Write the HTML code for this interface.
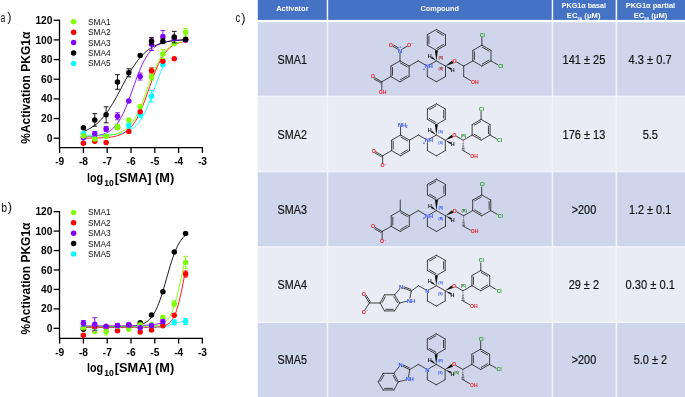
<!DOCTYPE html>
<html><head><meta charset="utf-8"><title>PKG1a activation</title>
<style>
html,body{margin:0;padding:0;background:#fff;}
body{width:685px;height:397px;overflow:hidden;font-family:"Liberation Sans",sans-serif;}
svg{display:block;will-change:transform;}
</style></head>
<body>
<svg width="685" height="397" viewBox="0 0 685 397">
<rect width="685" height="397" fill="#fff"/>
<rect x="257.8" y="0" width="427.2" height="397" fill="#f3f4fa"/>
<rect x="257.8" y="19.9" width="427.2" height="2.4" fill="#fff"/>
<rect x="257.8" y="0" width="68.90" height="19.9" fill="#4472c4"/>
<rect x="328.2" y="0" width="223.50" height="19.9" fill="#4472c4"/>
<rect x="553.2" y="0" width="62.40" height="19.9" fill="#4472c4"/>
<rect x="617.2" y="0" width="67.80" height="19.9" fill="#4472c4"/>
<rect x="257.8" y="22.3" width="68.90" height="73.40" fill="#cfd5ea"/>
<rect x="328.2" y="22.3" width="223.50" height="73.40" fill="#cfd5ea"/>
<rect x="553.2" y="22.3" width="62.40" height="73.40" fill="#cfd5ea"/>
<rect x="617.2" y="22.3" width="67.80" height="73.40" fill="#cfd5ea"/>
<rect x="257.8" y="97.3" width="68.90" height="73.40" fill="#e9ebf5"/>
<rect x="328.2" y="97.3" width="223.50" height="73.40" fill="#e9ebf5"/>
<rect x="553.2" y="97.3" width="62.40" height="73.40" fill="#e9ebf5"/>
<rect x="617.2" y="97.3" width="67.80" height="73.40" fill="#e9ebf5"/>
<rect x="257.8" y="172.2" width="68.90" height="74.00" fill="#cfd5ea"/>
<rect x="328.2" y="172.2" width="223.50" height="74.00" fill="#cfd5ea"/>
<rect x="553.2" y="172.2" width="62.40" height="74.00" fill="#cfd5ea"/>
<rect x="617.2" y="172.2" width="67.80" height="74.00" fill="#cfd5ea"/>
<rect x="257.8" y="247.8" width="68.90" height="73.80" fill="#e9ebf5"/>
<rect x="328.2" y="247.8" width="223.50" height="73.80" fill="#e9ebf5"/>
<rect x="553.2" y="247.8" width="62.40" height="73.80" fill="#e9ebf5"/>
<rect x="617.2" y="247.8" width="67.80" height="73.80" fill="#e9ebf5"/>
<rect x="257.8" y="323.1" width="68.90" height="73.90" fill="#cfd5ea"/>
<rect x="328.2" y="323.1" width="223.50" height="73.90" fill="#cfd5ea"/>
<rect x="553.2" y="323.1" width="62.40" height="73.90" fill="#cfd5ea"/>
<rect x="617.2" y="323.1" width="67.80" height="73.90" fill="#cfd5ea"/>
<g font-family='"Liberation Sans", sans-serif' font-weight="bold" fill="#fff">
<text x="276.2" y="10.7" font-size="7.6" textLength="32.4" lengthAdjust="spacingAndGlyphs">Activator</text>
<text x="420.4" y="10.7" font-size="7.6" textLength="38.6" lengthAdjust="spacingAndGlyphs">Compound</text>
<text x="561.8" y="8.1" font-size="6.8" textLength="44.3" lengthAdjust="spacingAndGlyphs">PKG1α basal</text>
<text x="566.8" y="18.4" font-size="6.8" textLength="33.7" lengthAdjust="spacingAndGlyphs">EC<tspan font-size="3.8" dy="1.3">50</tspan><tspan dy="-1.3"> (μM)</tspan></text>
<text x="625.7" y="8.1" font-size="6.8" textLength="49.5" lengthAdjust="spacingAndGlyphs">PKG1α partial</text>
<text x="633.8" y="18.4" font-size="6.8" textLength="33.5" lengthAdjust="spacingAndGlyphs">EC<tspan font-size="3.8" dy="1.3">50</tspan><tspan dy="-1.3"> (μM)</tspan></text>
</g>
<g font-family='"Liberation Sans", sans-serif' fill="#111" font-size="12.3" stroke="#111" stroke-width="0.18">
<text x="277.6" y="63.7" textLength="29.3" lengthAdjust="spacingAndGlyphs">SMA1</text>
<text x="562.6" y="63.7" textLength="42.7" lengthAdjust="spacingAndGlyphs">141 ± 25</text>
<text x="628.6" y="63.7" textLength="43.1" lengthAdjust="spacingAndGlyphs">4.3 ± 0.7</text>
<text x="277.6" y="138.7" textLength="29.3" lengthAdjust="spacingAndGlyphs">SMA2</text>
<text x="562.6" y="138.7" textLength="42.7" lengthAdjust="spacingAndGlyphs">176 ± 13</text>
<text x="642.7" y="138.7" textLength="15.3" lengthAdjust="spacingAndGlyphs">5.5</text>
<text x="277.6" y="213.7" textLength="29.3" lengthAdjust="spacingAndGlyphs">SMA3</text>
<text x="571.7" y="213.7" textLength="24.5" lengthAdjust="spacingAndGlyphs">&gt;200</text>
<text x="629.0" y="213.7" textLength="42.2" lengthAdjust="spacingAndGlyphs">1.2 ± 0.1</text>
<text x="277.6" y="288.7" textLength="29.3" lengthAdjust="spacingAndGlyphs">SMA4</text>
<text x="568.7" y="288.7" textLength="30.3" lengthAdjust="spacingAndGlyphs">29 ± 2</text>
<text x="625.6" y="288.7" textLength="49.4" lengthAdjust="spacingAndGlyphs">0.30 ± 0.1</text>
<text x="277.6" y="363.7" textLength="29.3" lengthAdjust="spacingAndGlyphs">SMA5</text>
<text x="571.7" y="363.7" textLength="24.5" lengthAdjust="spacingAndGlyphs">&gt;200</text>
<text x="633.8" y="363.7" textLength="33.2" lengthAdjust="spacingAndGlyphs">5.0 ± 2</text>
</g>
<text x="235.5" y="22.3" font-family='"Liberation Sans", sans-serif' font-size="12.8" fill="#111" textLength="4.7" lengthAdjust="spacingAndGlyphs">c</text>
<text x="241.2" y="21.6" font-family='"Liberation Sans", sans-serif' font-size="12.8" fill="#111">)</text>
<g stroke="#000" stroke-width="1.3" fill="none">
<path d="M59.5 19.60 V148.30"/>
<path d="M59.0 147.70 H203.00"/>
<path d="M53.6 138.20 H59.5"/>
<path d="M53.6 118.54 H59.5"/>
<path d="M53.6 98.88 H59.5"/>
<path d="M53.6 79.22 H59.5"/>
<path d="M53.6 59.56 H59.5"/>
<path d="M53.6 39.90 H59.5"/>
<path d="M53.6 20.24 H59.5"/>
<path d="M59.60 147.70 V152.90"/>
<path d="M83.40 147.70 V152.90"/>
<path d="M107.20 147.70 V152.90"/>
<path d="M131.00 147.70 V152.90"/>
<path d="M154.80 147.70 V152.90"/>
<path d="M178.60 147.70 V152.90"/>
<path d="M202.40 147.70 V152.90"/>
</g>
<g font-family='"Liberation Sans", sans-serif' font-weight="bold" font-size="10.2" fill="#000">
<text x="52.4" y="141.80" text-anchor="end">0</text>
<text x="52.4" y="122.14" text-anchor="end">20</text>
<text x="52.4" y="102.48" text-anchor="end">40</text>
<text x="52.4" y="82.82" text-anchor="end">60</text>
<text x="52.4" y="63.16" text-anchor="end">80</text>
<text x="52.4" y="43.50" text-anchor="end">100</text>
<text x="52.4" y="23.84" text-anchor="end">120</text>
<text x="59.70" y="164.90" text-anchor="middle">-9</text>
<text x="83.50" y="164.90" text-anchor="middle">-8</text>
<text x="107.30" y="164.90" text-anchor="middle">-7</text>
<text x="131.10" y="164.90" text-anchor="middle">-6</text>
<text x="154.90" y="164.90" text-anchor="middle">-5</text>
<text x="178.70" y="164.90" text-anchor="middle">-4</text>
<text x="202.50" y="164.90" text-anchor="middle">-3</text>
</g>
<text transform="translate(30.0 87.70) rotate(-90)" x="0" y="0" text-anchor="middle" font-family='"Liberation Sans", sans-serif' font-weight="bold" font-size="13.2" fill="#000" textLength="112" lengthAdjust="spacingAndGlyphs">%Activation PKG1α</text>
<g font-family='"Liberation Sans", sans-serif' font-weight="bold" fill="#000">
<text x="87.0" y="182.40" font-size="12.4" textLength="16.2" lengthAdjust="spacingAndGlyphs">log</text>
<text x="104.2" y="186.30" font-size="8.4" textLength="9.6" lengthAdjust="spacingAndGlyphs">10</text>
<text x="114.8" y="182.40" font-size="12.4" textLength="59.4" lengthAdjust="spacingAndGlyphs">[SMA] (M)</text>
</g>
<text x="0.6" y="22.20" font-family='"Liberation Sans", sans-serif' font-size="12.8" fill="#111" textLength="4.8" lengthAdjust="spacingAndGlyphs">a</text>
<text x="7.3" y="21.40" font-family='"Liberation Sans", sans-serif' font-size="12.8" fill="#111">)</text>
<g font-family='"Liberation Sans", sans-serif' font-size="8.3" fill="#111">
<circle cx="73.6" cy="21.80" r="2.75" fill="#80ff00"/>
<text x="88" y="24.80" textLength="22.7" lengthAdjust="spacingAndGlyphs">SMA1</text>
<circle cx="73.6" cy="32.20" r="2.75" fill="#ff0000"/>
<text x="88" y="35.20" textLength="22.7" lengthAdjust="spacingAndGlyphs">SMA2</text>
<circle cx="73.6" cy="42.60" r="2.75" fill="#8000ff"/>
<text x="88" y="45.60" textLength="22.7" lengthAdjust="spacingAndGlyphs">SMA3</text>
<circle cx="73.6" cy="53.00" r="2.75" fill="#000000"/>
<text x="88" y="56.00" textLength="22.7" lengthAdjust="spacingAndGlyphs">SMA4</text>
<circle cx="73.6" cy="63.40" r="2.75" fill="#00ffff"/>
<text x="88" y="66.40" textLength="22.7" lengthAdjust="spacingAndGlyphs">SMA5</text>
</g>
<polyline points="83.40,135.23 84.39,135.22 85.39,135.22 86.38,135.22 87.37,135.21 88.37,135.21 89.36,135.20 90.36,135.20 91.35,135.19 92.34,135.18 93.34,135.18 94.33,135.17 95.32,135.16 96.32,135.14 97.31,135.13 98.30,135.12 99.30,135.10 100.29,135.08 101.28,135.06 102.28,135.04 103.27,135.01 104.27,134.98 105.26,134.95 106.25,134.91 107.25,134.87 108.24,134.82 109.23,134.77 110.23,134.71 111.22,134.65 112.21,134.58 113.21,134.49 114.20,134.40 115.20,134.30 116.19,134.19 117.18,134.06 118.18,133.91 119.17,133.75 120.16,133.57 121.16,133.37 122.15,133.15 123.14,132.89 124.14,132.61 125.13,132.30 126.13,131.95 127.12,131.57 128.11,131.13 129.11,130.66 130.10,130.12 131.09,129.53 132.09,128.88 133.08,128.16 134.07,127.37 135.07,126.49 136.06,125.53 137.05,124.47 138.05,123.32 139.04,122.06 140.04,120.70 141.03,119.22 142.02,117.62 143.02,115.90 144.01,114.06 145.00,112.10 146.00,110.02 146.99,107.82 147.98,105.51 148.98,103.10 149.97,100.60 150.97,98.02 151.96,95.37 152.95,92.67 153.95,89.94 154.94,87.19 155.93,84.44 156.93,81.72 157.92,79.03 158.91,76.40 159.91,73.84 160.90,71.36 161.89,68.98 162.89,66.70" fill="none" stroke="#00ffff" stroke-width="0.9"/>
<polyline points="83.40,138.15 84.68,138.14 85.95,138.13 87.23,138.12 88.51,138.11 89.79,138.10 91.06,138.08 92.34,138.06 93.62,138.04 94.90,138.01 96.17,137.98 97.45,137.95 98.73,137.91 100.01,137.86 101.28,137.81 102.56,137.75 103.84,137.67 105.12,137.59 106.39,137.49 107.67,137.38 108.95,137.25 110.23,137.10 111.50,136.93 112.78,136.73 114.06,136.50 115.34,136.23 116.61,135.92 117.89,135.57 119.17,135.16 120.45,134.69 121.72,134.16 123.00,133.54 124.28,132.84 125.56,132.03 126.83,131.12 128.11,130.08 129.39,128.91 130.67,127.58 131.94,126.09 133.22,124.43 134.50,122.57 135.78,120.53 137.05,118.27 138.33,115.81 139.61,113.15 140.89,110.28 142.16,107.22 143.44,103.99 144.72,100.61 146.00,97.12 147.27,93.53 148.55,89.90 149.83,86.26 151.11,82.65 152.38,79.10 153.66,75.67 154.94,72.37 156.22,69.23 157.49,66.27 158.77,63.51 160.05,60.95 161.33,58.60 162.60,56.46 163.88,54.51 165.16,52.76 166.44,51.19 167.71,49.79 168.99,48.55 170.27,47.45 171.55,46.48 172.82,45.62 174.10,44.87 175.38,44.22 176.66,43.65 177.93,43.15 179.21,42.71 180.49,42.33 181.77,42.01 183.04,41.72 184.32,41.47 185.60,41.26" fill="none" stroke="#ff0000" stroke-width="0.9"/>
<polyline points="83.40,136.91 84.68,136.86 85.95,136.80 87.23,136.73 88.51,136.66 89.79,136.57 91.06,136.47 92.34,136.35 93.62,136.21 94.90,136.05 96.17,135.87 97.45,135.65 98.73,135.41 100.01,135.13 101.28,134.80 102.56,134.43 103.84,133.99 105.12,133.50 106.39,132.93 107.67,132.28 108.95,131.54 110.23,130.69 111.50,129.73 112.78,128.64 114.06,127.40 115.34,126.01 116.61,124.46 117.89,122.72 119.17,120.79 120.45,118.67 121.72,116.34 123.00,113.81 124.28,111.07 125.56,108.14 126.83,105.03 128.11,101.75 129.39,98.35 130.67,94.84 131.94,91.27 133.22,87.66 134.50,84.06 135.78,80.52 137.05,77.06 138.33,73.71 139.61,70.52 140.89,67.50 142.16,64.66 143.44,62.02 144.72,59.59 146.00,57.36 147.27,55.34 148.55,53.51 149.83,51.86 151.11,50.39 152.38,49.08 153.66,47.92 154.94,46.89 156.22,45.99 157.49,45.20 158.77,44.50 160.05,43.89 161.33,43.36 162.60,42.90 163.88,42.50 165.16,42.15 166.44,41.84 167.71,41.58 168.99,41.35 170.27,41.15 171.55,40.98 172.82,40.84 174.10,40.71 175.38,40.60 176.66,40.50 177.93,40.42 179.21,40.35 180.49,40.29 181.77,40.23 183.04,40.19 184.32,40.15 185.60,40.11" fill="none" stroke="#8000ff" stroke-width="0.9"/>
<polyline points="83.40,136.18 84.68,136.17 85.95,136.16 87.23,136.15 88.51,136.13 89.79,136.12 91.06,136.10 92.34,136.08 93.62,136.05 94.90,136.02 96.17,135.99 97.45,135.95 98.73,135.91 100.01,135.85 101.28,135.79 102.56,135.72 103.84,135.64 105.12,135.55 106.39,135.44 107.67,135.31 108.95,135.17 110.23,135.00 111.50,134.81 112.78,134.58 114.06,134.32 115.34,134.03 116.61,133.68 117.89,133.29 119.17,132.83 120.45,132.31 121.72,131.71 123.00,131.03 124.28,130.25 125.56,129.36 126.83,128.35 128.11,127.21 129.39,125.92 130.67,124.47 131.94,122.85 133.22,121.05 134.50,119.06 135.78,116.86 137.05,114.47 138.33,111.87 139.61,109.07 140.89,106.09 142.16,102.93 143.44,99.63 144.72,96.21 146.00,92.70 147.27,89.14 148.55,85.57 149.83,82.03 151.11,78.56 152.38,75.18 153.66,71.93 154.94,68.84 156.22,65.93 157.49,63.21 158.77,60.69 160.05,58.38 161.33,56.26 162.60,54.35 163.88,52.62 165.16,51.07 166.44,49.68 167.71,48.46 168.99,47.37 170.27,46.41 171.55,45.56 172.82,44.82 174.10,44.17 175.38,43.61 176.66,43.11 177.93,42.68 179.21,42.31 180.49,41.98 181.77,41.70 183.04,41.46 184.32,41.25 185.60,41.06" fill="none" stroke="#80ff00" stroke-width="0.9"/>
<polyline points="83.40,131.38 84.68,130.90 85.95,130.38 87.23,129.82 88.51,129.20 89.79,128.52 91.06,127.79 92.34,127.00 93.62,126.14 94.90,125.21 96.17,124.20 97.45,123.12 98.73,121.96 100.01,120.71 101.28,119.38 102.56,117.96 103.84,116.44 105.12,114.84 106.39,113.14 107.67,111.35 108.95,109.48 110.23,107.52 111.50,105.48 112.78,103.36 114.06,101.18 115.34,98.93 116.61,96.63 117.89,94.29 119.17,91.91 120.45,89.52 121.72,87.11 123.00,84.71 124.28,82.32 125.56,79.96 126.83,77.63 128.11,75.35 129.39,73.13 130.67,70.97 131.94,68.88 133.22,66.87 134.50,64.94 135.78,63.10 137.05,61.35 138.33,59.69 139.61,58.12 140.89,56.64 142.16,55.25 143.44,53.95 144.72,52.74 146.00,51.61 147.27,50.55 148.55,49.58 149.83,48.68 151.11,47.84 152.38,47.07 153.66,46.36 154.94,45.71 156.22,45.11 157.49,44.56 158.77,44.06 160.05,43.60 161.33,43.18 162.60,42.79 163.88,42.44 165.16,42.12 166.44,41.83 167.71,41.56 168.99,41.32 170.27,41.10 171.55,40.90 172.82,40.71 174.10,40.55 175.38,40.40 176.66,40.26 177.93,40.13 179.21,40.02 180.49,39.92 181.77,39.82 183.04,39.74 184.32,39.66 185.60,39.59" fill="none" stroke="#000000" stroke-width="0.9"/>
<path d="M151.53 90.62 V102.02 M149.13 90.62 H153.93 M149.13 102.02 H153.93" stroke="#00ffff" stroke-width="0.9" fill="none"/>
<path d="M140.18 111.71 V117.71 M137.78 111.71 H142.58 M137.78 117.71 H142.58" stroke="#00ffff" stroke-width="0.9" fill="none"/>
<path d="M128.82 123.12 V128.12 M126.42 123.12 H131.22 M126.42 128.12 H131.22" stroke="#00ffff" stroke-width="0.9" fill="none"/>
<circle cx="83.40" cy="133.38" r="2.75" fill="#00ffff"/>
<circle cx="94.76" cy="138.20" r="2.75" fill="#00ffff"/>
<circle cx="106.11" cy="136.23" r="2.75" fill="#00ffff"/>
<circle cx="117.47" cy="127.19" r="2.75" fill="#00ffff"/>
<circle cx="128.82" cy="125.62" r="2.75" fill="#00ffff"/>
<circle cx="140.18" cy="114.71" r="2.75" fill="#00ffff"/>
<circle cx="151.53" cy="96.32" r="2.75" fill="#00ffff"/>
<circle cx="162.89" cy="64.87" r="2.75" fill="#00ffff"/>
<path d="M151.53 67.86 V73.86 M149.13 67.86 H153.93 M149.13 73.86 H153.93" stroke="#ff0000" stroke-width="0.9" fill="none"/>
<circle cx="83.40" cy="143.31" r="2.75" fill="#ff0000"/>
<circle cx="94.76" cy="141.15" r="2.75" fill="#ff0000"/>
<circle cx="106.11" cy="142.43" r="2.75" fill="#ff0000"/>
<circle cx="117.47" cy="127.39" r="2.75" fill="#ff0000"/>
<circle cx="128.82" cy="131.42" r="2.75" fill="#ff0000"/>
<circle cx="140.18" cy="111.66" r="2.75" fill="#ff0000"/>
<circle cx="151.53" cy="70.86" r="2.75" fill="#ff0000"/>
<circle cx="162.89" cy="61.13" r="2.75" fill="#ff0000"/>
<circle cx="174.24" cy="58.87" r="2.75" fill="#ff0000"/>
<circle cx="185.60" cy="39.90" r="2.75" fill="#ff0000"/>
<path d="M94.76 131.37 V136.37 M92.36 131.37 H97.16 M92.36 136.37 H97.16" stroke="#8000ff" stroke-width="0.9" fill="none"/>
<path d="M106.11 126.46 V131.46 M103.71 126.46 H108.51 M103.71 131.46 H108.51" stroke="#8000ff" stroke-width="0.9" fill="none"/>
<path d="M117.47 112.78 V119.78 M115.07 112.78 H119.87 M115.07 119.78 H119.87" stroke="#8000ff" stroke-width="0.9" fill="none"/>
<path d="M140.18 73.07 V80.07 M137.78 73.07 H142.58 M137.78 80.07 H142.58" stroke="#8000ff" stroke-width="0.9" fill="none"/>
<path d="M151.53 38.12 V50.52 M149.13 38.12 H153.93 M149.13 50.52 H153.93" stroke="#8000ff" stroke-width="0.9" fill="none"/>
<path d="M162.89 30.56 V42.56 M160.49 30.56 H165.29 M160.49 42.56 H165.29" stroke="#8000ff" stroke-width="0.9" fill="none"/>
<circle cx="83.40" cy="137.81" r="2.75" fill="#8000ff"/>
<circle cx="94.76" cy="133.87" r="2.75" fill="#8000ff"/>
<circle cx="106.11" cy="128.96" r="2.75" fill="#8000ff"/>
<circle cx="117.47" cy="116.28" r="2.75" fill="#8000ff"/>
<circle cx="128.82" cy="101.04" r="2.75" fill="#8000ff"/>
<circle cx="140.18" cy="76.57" r="2.75" fill="#8000ff"/>
<circle cx="151.53" cy="44.32" r="2.75" fill="#8000ff"/>
<circle cx="162.89" cy="36.56" r="2.75" fill="#8000ff"/>
<circle cx="174.24" cy="38.92" r="2.75" fill="#8000ff"/>
<circle cx="185.60" cy="39.90" r="2.75" fill="#8000ff"/>
<path d="M117.47 124.49 V129.49 M115.07 124.49 H119.87 M115.07 129.49 H119.87" stroke="#80ff00" stroke-width="0.9" fill="none"/>
<path d="M151.53 73.96 V79.96 M149.13 73.96 H153.93 M149.13 79.96 H153.93" stroke="#80ff00" stroke-width="0.9" fill="none"/>
<path d="M162.89 49.56 V58.56 M160.49 49.56 H165.29 M160.49 58.56 H165.29" stroke="#80ff00" stroke-width="0.9" fill="none"/>
<path d="M185.60 28.33 V35.93 M183.20 28.33 H188.00 M183.20 35.93 H188.00" stroke="#80ff00" stroke-width="0.9" fill="none"/>
<circle cx="83.40" cy="135.94" r="2.75" fill="#80ff00"/>
<circle cx="94.76" cy="138.99" r="2.75" fill="#80ff00"/>
<circle cx="106.11" cy="136.23" r="2.75" fill="#80ff00"/>
<circle cx="117.47" cy="126.99" r="2.75" fill="#80ff00"/>
<circle cx="128.82" cy="120.01" r="2.75" fill="#80ff00"/>
<circle cx="140.18" cy="106.45" r="2.75" fill="#80ff00"/>
<circle cx="151.53" cy="76.96" r="2.75" fill="#80ff00"/>
<circle cx="162.89" cy="54.06" r="2.75" fill="#80ff00"/>
<circle cx="174.24" cy="43.73" r="2.75" fill="#80ff00"/>
<circle cx="185.60" cy="32.13" r="2.75" fill="#80ff00"/>
<path d="M94.76 113.62 V126.22 M92.36 113.62 H97.16 M92.36 126.22 H97.16" stroke="#000000" stroke-width="0.9" fill="none"/>
<path d="M106.11 106.80 V122.80 M103.71 106.80 H108.51 M103.71 122.80 H108.51" stroke="#000000" stroke-width="0.9" fill="none"/>
<path d="M117.47 74.67 V89.27 M115.07 74.67 H119.87 M115.07 89.27 H119.87" stroke="#000000" stroke-width="0.9" fill="none"/>
<path d="M128.82 68.83 V76.83 M126.42 68.83 H131.22 M126.42 76.83 H131.22" stroke="#000000" stroke-width="0.9" fill="none"/>
<path d="M151.53 37.68 V44.68 M149.13 37.68 H153.93 M149.13 44.68 H153.93" stroke="#000000" stroke-width="0.9" fill="none"/>
<path d="M162.89 38.68 V43.68 M160.49 38.68 H165.29 M160.49 43.68 H165.29" stroke="#000000" stroke-width="0.9" fill="none"/>
<path d="M174.24 31.35 V42.75 M171.84 31.35 H176.64 M171.84 42.75 H176.64" stroke="#000000" stroke-width="0.9" fill="none"/>
<circle cx="83.40" cy="127.78" r="2.75" fill="#000000"/>
<circle cx="94.76" cy="119.92" r="2.75" fill="#000000"/>
<circle cx="106.11" cy="114.80" r="2.75" fill="#000000"/>
<circle cx="117.47" cy="81.97" r="2.75" fill="#000000"/>
<circle cx="128.82" cy="72.83" r="2.75" fill="#000000"/>
<circle cx="140.18" cy="55.53" r="2.75" fill="#000000"/>
<circle cx="151.53" cy="41.18" r="2.75" fill="#000000"/>
<circle cx="162.89" cy="41.18" r="2.75" fill="#000000"/>
<circle cx="174.24" cy="37.05" r="2.75" fill="#000000"/>
<circle cx="185.60" cy="39.21" r="2.75" fill="#000000"/>
<g stroke="#000" stroke-width="1.3" fill="none">
<path d="M59.5 211.10 V339.00"/>
<path d="M59.0 338.40 H203.00"/>
<path d="M53.6 328.30 H59.5"/>
<path d="M53.6 308.86 H59.5"/>
<path d="M53.6 289.42 H59.5"/>
<path d="M53.6 269.98 H59.5"/>
<path d="M53.6 250.54 H59.5"/>
<path d="M53.6 231.10 H59.5"/>
<path d="M53.6 211.66 H59.5"/>
<path d="M59.60 338.40 V343.60"/>
<path d="M83.40 338.40 V343.60"/>
<path d="M107.20 338.40 V343.60"/>
<path d="M131.00 338.40 V343.60"/>
<path d="M154.80 338.40 V343.60"/>
<path d="M178.60 338.40 V343.60"/>
<path d="M202.40 338.40 V343.60"/>
</g>
<g font-family='"Liberation Sans", sans-serif' font-weight="bold" font-size="10.2" fill="#000">
<text x="52.4" y="331.90" text-anchor="end">0</text>
<text x="52.4" y="312.46" text-anchor="end">20</text>
<text x="52.4" y="293.02" text-anchor="end">40</text>
<text x="52.4" y="273.58" text-anchor="end">60</text>
<text x="52.4" y="254.14" text-anchor="end">80</text>
<text x="52.4" y="234.70" text-anchor="end">100</text>
<text x="52.4" y="215.26" text-anchor="end">120</text>
<text x="59.70" y="355.70" text-anchor="middle">-9</text>
<text x="83.50" y="355.70" text-anchor="middle">-8</text>
<text x="107.30" y="355.70" text-anchor="middle">-7</text>
<text x="131.10" y="355.70" text-anchor="middle">-6</text>
<text x="154.90" y="355.70" text-anchor="middle">-5</text>
<text x="178.70" y="355.70" text-anchor="middle">-4</text>
<text x="202.50" y="355.70" text-anchor="middle">-3</text>
</g>
<text transform="translate(30.0 278.50) rotate(-90)" x="0" y="0" text-anchor="middle" font-family='"Liberation Sans", sans-serif' font-weight="bold" font-size="13.2" fill="#000" textLength="112" lengthAdjust="spacingAndGlyphs">%Activation PKG1α</text>
<g font-family='"Liberation Sans", sans-serif' font-weight="bold" fill="#000">
<text x="87.0" y="372.20" font-size="12.4" textLength="16.2" lengthAdjust="spacingAndGlyphs">log</text>
<text x="104.2" y="376.10" font-size="8.4" textLength="9.6" lengthAdjust="spacingAndGlyphs">10</text>
<text x="114.8" y="372.20" font-size="12.4" textLength="59.4" lengthAdjust="spacingAndGlyphs">[SMA] (M)</text>
</g>
<text x="1.2" y="211.60" font-family='"Liberation Sans", sans-serif' font-size="12.8" fill="#111" textLength="5.8" lengthAdjust="spacingAndGlyphs">b</text>
<text x="7.8" y="210.80" font-family='"Liberation Sans", sans-serif' font-size="12.8" fill="#111">)</text>
<g font-family='"Liberation Sans", sans-serif' font-size="8.3" fill="#111">
<circle cx="73.6" cy="212.40" r="2.75" fill="#80ff00"/>
<text x="88" y="215.40" textLength="22.7" lengthAdjust="spacingAndGlyphs">SMA1</text>
<circle cx="73.6" cy="222.80" r="2.75" fill="#ff0000"/>
<text x="88" y="225.80" textLength="22.7" lengthAdjust="spacingAndGlyphs">SMA2</text>
<circle cx="73.6" cy="233.20" r="2.75" fill="#8000ff"/>
<text x="88" y="236.20" textLength="22.7" lengthAdjust="spacingAndGlyphs">SMA3</text>
<circle cx="73.6" cy="243.60" r="2.75" fill="#000000"/>
<text x="88" y="246.60" textLength="22.7" lengthAdjust="spacingAndGlyphs">SMA4</text>
<circle cx="73.6" cy="254.00" r="2.75" fill="#00ffff"/>
<text x="88" y="257.00" textLength="22.7" lengthAdjust="spacingAndGlyphs">SMA5</text>
</g>
<polyline points="83.40,326.84 84.68,326.84 85.95,326.84 87.23,326.84 88.51,326.84 89.79,326.84 91.06,326.84 92.34,326.84 93.62,326.84 94.90,326.84 96.17,326.84 97.45,326.84 98.73,326.84 100.01,326.84 101.28,326.83 102.56,326.83 103.84,326.83 105.12,326.83 106.39,326.83 107.67,326.82 108.95,326.82 110.23,326.82 111.50,326.81 112.78,326.80 114.06,326.80 115.34,326.79 116.61,326.77 117.89,326.76 119.17,326.74 120.45,326.72 121.72,326.70 123.00,326.67 124.28,326.64 125.56,326.59 126.83,326.54 128.11,326.48 129.39,326.41 130.67,326.32 131.94,326.22 133.22,326.09 134.50,325.94 135.78,325.76 137.05,325.54 138.33,325.28 139.61,324.96 140.89,324.59 142.16,324.14 143.44,323.61 144.72,322.98 146.00,322.23 147.27,321.34 148.55,320.30 149.83,319.07 151.11,317.64 152.38,315.97 153.66,314.04 154.94,311.84 156.22,309.33 157.49,306.51 158.77,303.36 160.05,299.89 161.33,296.13 162.60,292.10 163.88,287.85 165.16,283.44 166.44,278.93 167.71,274.41 168.99,269.95 170.27,265.62 171.55,261.50 172.82,257.62 174.10,254.03 175.38,250.75 176.66,247.79 177.93,245.16 179.21,242.83 180.49,240.79 181.77,239.02 183.04,237.49 184.32,236.18 185.60,235.07" fill="none" stroke="#000000" stroke-width="0.9"/>
<polyline points="83.40,327.33 84.68,327.33 85.95,327.33 87.23,327.33 88.51,327.33 89.79,327.33 91.06,327.33 92.34,327.33 93.62,327.33 94.90,327.33 96.17,327.33 97.45,327.33 98.73,327.33 100.01,327.33 101.28,327.33 102.56,327.33 103.84,327.33 105.12,327.33 106.39,327.33 107.67,327.33 108.95,327.33 110.23,327.33 111.50,327.33 112.78,327.33 114.06,327.33 115.34,327.33 116.61,327.33 117.89,327.33 119.17,327.33 120.45,327.33 121.72,327.33 123.00,327.33 124.28,327.33 125.56,327.33 126.83,327.33 128.11,327.33 129.39,327.33 130.67,327.33 131.94,327.33 133.22,327.33 134.50,327.33 135.78,327.33 137.05,327.33 138.33,327.33 139.61,327.33 140.89,327.33 142.16,327.33 143.44,327.33 144.72,327.33 146.00,327.32 147.27,327.32 148.55,327.32 149.83,327.32 151.11,327.31 152.38,327.31 153.66,327.29 154.94,327.28 156.22,327.26 157.49,327.23 158.77,327.18 160.05,327.12 161.33,327.04 162.60,326.91 163.88,326.75 165.16,326.52 166.44,326.23 167.71,325.86 168.99,325.41 170.27,324.91 171.55,324.38 172.82,323.84 174.10,323.35 175.38,322.91 176.66,322.55 177.93,322.27 179.21,322.05 180.49,321.89 181.77,321.77 183.04,321.69 184.32,321.63 185.60,321.59" fill="none" stroke="#00ffff" stroke-width="0.9"/>
<polyline points="83.40,327.33 84.68,327.33 85.95,327.33 87.23,327.33 88.51,327.33 89.79,327.33 91.06,327.33 92.34,327.33 93.62,327.33 94.90,327.33 96.17,327.33 97.45,327.33 98.73,327.33 100.01,327.33 101.28,327.33 102.56,327.33 103.84,327.33 105.12,327.33 106.39,327.33 107.67,327.33 108.95,327.33 110.23,327.33 111.50,327.33 112.78,327.33 114.06,327.33 115.34,327.33 116.61,327.33 117.89,327.33 119.17,327.33 120.45,327.33 121.72,327.33 123.00,327.33 124.28,327.33 125.56,327.33 126.83,327.33 128.11,327.33 129.39,327.33 130.67,327.33 131.94,327.33 133.22,327.33 134.50,327.33 135.78,327.32 137.05,327.32 138.33,327.32 139.61,327.32 140.89,327.32 142.16,327.31 143.44,327.31 144.72,327.30 146.00,327.30 147.27,327.29 148.55,327.28 149.83,327.26 151.11,327.24 152.38,327.21 153.66,327.17 154.94,327.12 156.22,327.06 157.49,326.98 158.77,326.87 160.05,326.72 161.33,326.54 162.60,326.29 163.88,325.97 165.16,325.55 166.44,325.01 167.71,324.31 168.99,323.41 170.27,322.25 171.55,320.77 172.82,318.90 174.10,316.56 175.38,313.68 176.66,310.17 177.93,306.00 179.21,301.15 180.49,295.66 181.77,289.64 183.04,283.26 184.32,276.73 185.60,270.29" fill="none" stroke="#ff0000" stroke-width="0.9"/>
<polyline points="83.40,326.36 84.68,326.36 85.95,326.36 87.23,326.36 88.51,326.36 89.79,326.36 91.06,326.36 92.34,326.36 93.62,326.36 94.90,326.36 96.17,326.36 97.45,326.36 98.73,326.36 100.01,326.36 101.28,326.36 102.56,326.36 103.84,326.36 105.12,326.36 106.39,326.36 107.67,326.36 108.95,326.36 110.23,326.36 111.50,326.36 112.78,326.36 114.06,326.36 115.34,326.36 116.61,326.36 117.89,326.36 119.17,326.36 120.45,326.36 121.72,326.36 123.00,326.35 124.28,326.35 125.56,326.35 126.83,326.35 128.11,326.35 129.39,326.35 130.67,326.35 131.94,326.35 133.22,326.35 134.50,326.34 135.78,326.34 137.05,326.34 138.33,326.33 139.61,326.32 140.89,326.32 142.16,326.30 143.44,326.29 144.72,326.27 146.00,326.25 147.27,326.22 148.55,326.18 149.83,326.13 151.11,326.06 152.38,325.98 153.66,325.88 154.94,325.74 156.22,325.57 157.49,325.35 158.77,325.08 160.05,324.72 161.33,324.28 162.60,323.71 163.88,322.99 165.16,322.09 166.44,320.97 167.71,319.56 168.99,317.83 170.27,315.71 171.55,313.13 172.82,310.06 174.10,306.45 175.38,302.27 176.66,297.56 177.93,292.37 179.21,286.80 180.49,280.99 181.77,275.11 183.04,269.34 184.32,263.84 185.60,258.75" fill="none" stroke="#80ff00" stroke-width="0.9"/>
<polyline points="83.40,325.87 84.39,325.87 85.39,325.87 86.38,325.87 87.37,325.87 88.37,325.87 89.36,325.87 90.36,325.87 91.35,325.87 92.34,325.87 93.34,325.87 94.33,325.87 95.32,325.87 96.32,325.86 97.31,325.86 98.30,325.86 99.30,325.86 100.29,325.86 101.28,325.86 102.28,325.86 103.27,325.86 104.27,325.86 105.26,325.86 106.25,325.86 107.25,325.85 108.24,325.85 109.23,325.85 110.23,325.85 111.22,325.85 112.21,325.85 113.21,325.84 114.20,325.84 115.20,325.84 116.19,325.83 117.18,325.83 118.18,325.83 119.17,325.82 120.16,325.82 121.16,325.81 122.15,325.81 123.14,325.80 124.14,325.79 125.13,325.78 126.13,325.78 127.12,325.77 128.11,325.76 129.11,325.75 130.10,325.73 131.09,325.72 132.09,325.70 133.08,325.69 134.07,325.67 135.07,325.65 136.06,325.63 137.05,325.60 138.05,325.57 139.04,325.54 140.04,325.51 141.03,325.48 142.02,325.44 143.02,325.39 144.01,325.34 145.00,325.29 146.00,325.23 146.99,325.17 147.98,325.10 148.98,325.02 149.97,324.94 150.97,324.84 151.96,324.74 152.95,324.63 153.95,324.51 154.94,324.37 155.93,324.22 156.93,324.06 157.92,323.88 158.91,323.69 159.91,323.47 160.90,323.24 161.89,322.98 162.89,322.70" fill="none" stroke="#8000ff" stroke-width="0.9"/>
<circle cx="83.40" cy="329.37" r="2.75" fill="#000000"/>
<circle cx="94.76" cy="326.84" r="2.75" fill="#000000"/>
<circle cx="106.11" cy="327.13" r="2.75" fill="#000000"/>
<circle cx="117.47" cy="326.36" r="2.75" fill="#000000"/>
<circle cx="128.82" cy="325.00" r="2.75" fill="#000000"/>
<circle cx="140.18" cy="322.86" r="2.75" fill="#000000"/>
<circle cx="151.53" cy="314.89" r="2.75" fill="#000000"/>
<circle cx="162.89" cy="291.75" r="2.75" fill="#000000"/>
<circle cx="174.24" cy="251.90" r="2.75" fill="#000000"/>
<circle cx="185.60" cy="233.53" r="2.75" fill="#000000"/>
<path d="M174.24 319.87 V324.87 M171.84 319.87 H176.64 M171.84 324.87 H176.64" stroke="#00ffff" stroke-width="0.9" fill="none"/>
<path d="M185.60 318.50 V324.50 M183.20 318.50 H188.00 M183.20 324.50 H188.00" stroke="#00ffff" stroke-width="0.9" fill="none"/>
<circle cx="83.40" cy="326.84" r="2.75" fill="#00ffff"/>
<circle cx="94.76" cy="327.13" r="2.75" fill="#00ffff"/>
<circle cx="106.11" cy="327.81" r="2.75" fill="#00ffff"/>
<circle cx="117.47" cy="327.33" r="2.75" fill="#00ffff"/>
<circle cx="128.82" cy="326.84" r="2.75" fill="#00ffff"/>
<circle cx="140.18" cy="326.36" r="2.75" fill="#00ffff"/>
<circle cx="151.53" cy="325.87" r="2.75" fill="#00ffff"/>
<circle cx="162.89" cy="325.38" r="2.75" fill="#00ffff"/>
<circle cx="174.24" cy="322.37" r="2.75" fill="#00ffff"/>
<circle cx="185.60" cy="321.50" r="2.75" fill="#00ffff"/>
<path d="M185.60 271.06 V277.06 M183.20 271.06 H188.00 M183.20 277.06 H188.00" stroke="#ff0000" stroke-width="0.9" fill="none"/>
<circle cx="83.40" cy="335.20" r="2.75" fill="#ff0000"/>
<circle cx="94.76" cy="326.84" r="2.75" fill="#ff0000"/>
<circle cx="106.11" cy="327.13" r="2.75" fill="#ff0000"/>
<circle cx="117.47" cy="330.83" r="2.75" fill="#ff0000"/>
<circle cx="128.82" cy="326.84" r="2.75" fill="#ff0000"/>
<circle cx="140.18" cy="331.99" r="2.75" fill="#ff0000"/>
<circle cx="151.53" cy="329.95" r="2.75" fill="#ff0000"/>
<circle cx="162.89" cy="325.87" r="2.75" fill="#ff0000"/>
<circle cx="174.24" cy="315.37" r="2.75" fill="#ff0000"/>
<circle cx="185.60" cy="274.06" r="2.75" fill="#ff0000"/>
<path d="M106.11 328.01 V335.01 M103.71 328.01 H108.51 M103.71 335.01 H108.51" stroke="#80ff00" stroke-width="0.9" fill="none"/>
<path d="M174.24 300.71 V306.71 M171.84 300.71 H176.64 M171.84 306.71 H176.64" stroke="#80ff00" stroke-width="0.9" fill="none"/>
<path d="M185.60 256.40 V268.40 M183.20 256.40 H188.00 M183.20 268.40 H188.00" stroke="#80ff00" stroke-width="0.9" fill="none"/>
<circle cx="83.40" cy="327.72" r="2.75" fill="#80ff00"/>
<circle cx="94.76" cy="331.51" r="2.75" fill="#80ff00"/>
<circle cx="106.11" cy="331.51" r="2.75" fill="#80ff00"/>
<circle cx="117.47" cy="326.36" r="2.75" fill="#80ff00"/>
<circle cx="128.82" cy="329.37" r="2.75" fill="#80ff00"/>
<circle cx="140.18" cy="324.70" r="2.75" fill="#80ff00"/>
<circle cx="151.53" cy="324.70" r="2.75" fill="#80ff00"/>
<circle cx="162.89" cy="317.22" r="2.75" fill="#80ff00"/>
<circle cx="174.24" cy="303.71" r="2.75" fill="#80ff00"/>
<circle cx="185.60" cy="262.40" r="2.75" fill="#80ff00"/>
<path d="M83.40 320.54 V326.14 M81.00 320.54 H85.80 M81.00 326.14 H85.80" stroke="#8000ff" stroke-width="0.9" fill="none"/>
<path d="M94.76 317.72 V330.72 M92.36 317.72 H97.16 M92.36 330.72 H97.16" stroke="#8000ff" stroke-width="0.9" fill="none"/>
<path d="M117.47 323.48 V327.48 M115.07 323.48 H119.87 M115.07 327.48 H119.87" stroke="#8000ff" stroke-width="0.9" fill="none"/>
<path d="M128.82 323.00 V327.00 M126.42 323.00 H131.22 M126.42 327.00 H131.22" stroke="#8000ff" stroke-width="0.9" fill="none"/>
<path d="M162.89 319.50 V323.50 M160.49 319.50 H165.29 M160.49 323.50 H165.29" stroke="#8000ff" stroke-width="0.9" fill="none"/>
<circle cx="83.40" cy="323.34" r="2.75" fill="#8000ff"/>
<circle cx="94.76" cy="324.22" r="2.75" fill="#8000ff"/>
<circle cx="106.11" cy="326.36" r="2.75" fill="#8000ff"/>
<circle cx="117.47" cy="325.48" r="2.75" fill="#8000ff"/>
<circle cx="128.82" cy="325.00" r="2.75" fill="#8000ff"/>
<circle cx="140.18" cy="327.72" r="2.75" fill="#8000ff"/>
<circle cx="151.53" cy="325.38" r="2.75" fill="#8000ff"/>
<circle cx="162.89" cy="321.50" r="2.75" fill="#8000ff"/>
<path d="M429.55 64.80L436.40 60.87M436.40 60.87L445.50 66.10M445.50 66.10L445.50 76.56M445.50 76.56L436.40 81.79M436.40 81.79L427.30 76.56M427.30 76.56L427.30 68.50M436.40 50.41L445.50 45.18M445.50 45.18L445.50 34.72M445.50 34.72L436.40 29.49M436.40 29.49L427.30 34.72M427.30 34.72L427.30 45.18M427.30 45.18L436.40 50.41M428.90 36.12L428.90 43.78M436.81 31.57L443.48 35.41M443.48 44.49L436.81 48.33M456.68 62.07L463.70 66.10M463.70 66.10L472.80 60.87M472.80 60.87L472.80 50.41M472.80 50.41L481.90 45.18M481.90 45.18L491.00 50.41M491.00 50.41L491.00 60.87M491.00 60.87L481.90 66.10M481.90 66.10L472.80 60.87M474.40 59.47L474.40 51.81M482.31 47.26L488.98 51.10M488.98 60.18L482.31 64.02M481.90 45.18L481.90 37.32M491.00 60.87L497.67 64.70M463.70 66.10L463.70 76.56M463.70 76.56L470.55 80.49M425.05 64.80L418.20 60.87M418.20 60.87L409.10 66.10M409.10 66.10L400.00 60.87M400.00 60.87L390.90 66.10M390.90 66.10L390.90 76.56M390.90 76.56L400.00 81.79M400.00 81.79L409.10 76.56M409.10 76.56L409.10 66.10M400.41 62.95L407.08 66.79M407.08 75.87L400.41 79.71M392.50 75.16L392.50 67.50M400.00 60.87L400.00 52.81M397.92 49.21L392.81 46.28M398.44 47.90L393.68 45.16M402.08 49.21L407.19 46.28M390.90 76.56L381.80 81.79M381.80 81.79L374.61 77.66M380.58 82.70L374.08 78.97M381.80 81.79L381.80 89.85" stroke="#262626" stroke-width="0.85" fill="none" stroke-linecap="round"/>
<path d="M436.40 60.87L437.90 50.41L434.90 50.41ZM436.40 60.87L431.97 56.55L430.83 58.19ZM445.50 66.10L453.55 63.17L452.05 60.57ZM445.50 66.10L450.72 70.08L451.68 68.32Z" fill="#111" stroke="none"/>
<g font-family='"Liberation Sans", sans-serif'><text x="429.80" y="58.21" fill="#222" font-size="5.4" text-anchor="middle" font-weight="bold">H</text><text x="454.60" y="62.81" fill="#e8202a" font-size="5.4" text-anchor="middle" font-weight="bold">O</text><text x="452.80" y="72.14" fill="#222" font-size="5.4" text-anchor="middle" font-weight="bold">H</text><text x="482.40" y="36.56" fill="#20a020" font-size="5.1" text-anchor="middle" font-weight="bold">Cl</text><text x="500.70" y="67.94" fill="#20a020" font-size="5.1" text-anchor="middle" font-weight="bold">Cl</text><text x="474.80" y="83.63" fill="#e8202a" font-size="5.1" text-anchor="middle" font-weight="bold">OH</text><text x="438.40" y="58.87" fill="#a02020" font-size="3.4" font-weight="bold">(R)</text><text x="438.50" y="70.30" fill="#a02020" font-size="3.4" font-weight="bold">(R)</text><text x="428.80" y="68.12" fill="#3050f8" font-size="5.6" text-anchor="middle" font-weight="bold">NH</text><text x="423.90" y="69.61" fill="#3050f8" font-size="4.2" text-anchor="middle" font-weight="bold">+</text><text x="400.00" y="52.50" fill="#3050f8" font-size="5.8" text-anchor="middle" font-weight="bold">N</text><text x="400.20" y="47.71" fill="#3050f8" font-size="3.6" text-anchor="middle" font-weight="bold">+</text><text x="390.90" y="47.09" fill="#e8202a" font-size="5.3" text-anchor="middle" font-weight="bold">O</text><text x="409.10" y="47.09" fill="#e8202a" font-size="5.3" text-anchor="middle" font-weight="bold">O</text><text x="412.10" y="44.22" fill="#e8202a" font-size="4.0" text-anchor="middle" font-weight="bold">-</text><text x="372.70" y="78.47" fill="#e8202a" font-size="5.3" text-anchor="middle" font-weight="bold">O</text><text x="382.60" y="94.29" fill="#e8202a" font-size="5.1" text-anchor="middle" font-weight="bold">OH</text></g>
<path d="M429.65 138.89L436.35 135.00M436.35 135.00L445.30 140.20M445.30 140.20L445.30 150.60M445.30 150.60L436.35 155.80M436.35 155.80L427.40 150.60M427.40 150.60L427.40 142.60M436.35 124.60L445.30 119.40M445.30 119.40L445.30 109.00M445.30 109.00L436.35 103.80M436.35 103.80L427.40 109.00M427.40 109.00L427.40 119.40M427.40 119.40L436.35 124.60M429.41 109.68L435.94 105.89M443.70 110.40L443.70 118.00M435.94 122.51L429.41 118.72M456.33 136.21L463.20 140.20M463.20 140.20L472.15 135.00M472.15 135.00L472.15 124.60M472.15 124.60L481.10 119.40M481.10 119.40L490.05 124.60M490.05 124.60L490.05 135.00M490.05 135.00L481.10 140.20M481.10 140.20L472.15 135.00M474.16 125.28L480.69 121.49M488.45 126.00L488.45 133.60M480.69 138.11L474.16 134.32M481.10 119.40L481.10 111.60M490.05 135.00L496.58 138.79M463.20 150.60L469.90 154.49M425.15 138.89L418.45 135.00M418.45 135.00L409.50 140.20M409.50 140.20L400.55 135.00M400.55 135.00L391.60 140.20M391.60 140.20L391.60 150.60M391.60 150.60L400.55 155.80M400.55 155.80L409.50 150.60M409.50 150.60L409.50 140.20M400.96 137.09L407.49 140.88M407.49 149.92L400.96 153.71M393.20 149.20L393.20 141.60M400.55 135.00L400.55 127.00M391.60 150.60L382.65 155.80M382.65 155.80L375.60 151.71M381.43 156.71L375.07 153.02M382.65 155.80L382.65 163.80" stroke="#262626" stroke-width="0.85" fill="none" stroke-linecap="round"/>
<path d="M436.35 135.00L437.85 124.60L434.85 124.60ZM436.35 135.00L431.92 130.68L430.78 132.32ZM445.30 140.20L453.21 137.29L451.69 134.71ZM445.30 140.20L450.52 144.18L451.48 142.42Z" fill="#111" stroke="none"/>
<path d="M462.93 141.85L463.47 141.85M462.66 143.50L463.74 143.50M462.39 145.15L464.01 145.15M462.12 146.80L464.28 146.80M461.85 148.45L464.55 148.45M461.58 150.10L464.82 150.10" stroke="#333" stroke-width="0.75" fill="none"/>
<g font-family='"Liberation Sans", sans-serif'><text x="429.75" y="132.34" fill="#222" font-size="5.4" text-anchor="middle" font-weight="bold">H</text><text x="454.25" y="136.94" fill="#e8202a" font-size="5.4" text-anchor="middle" font-weight="bold">O</text><text x="452.60" y="146.24" fill="#222" font-size="5.4" text-anchor="middle" font-weight="bold">H</text><text x="481.60" y="110.84" fill="#20a020" font-size="5.1" text-anchor="middle" font-weight="bold">Cl</text><text x="499.60" y="142.04" fill="#20a020" font-size="5.1" text-anchor="middle" font-weight="bold">Cl</text><text x="474.15" y="157.64" fill="#e8202a" font-size="5.1" text-anchor="middle" font-weight="bold">OH</text><text x="438.35" y="133.00" fill="#3050f8" font-size="3.4" font-weight="bold">(S)</text><text x="438.30" y="144.40" fill="#3050f8" font-size="3.4" font-weight="bold">(S)</text><text x="461.00" y="136.60" fill="#208020" font-size="3.8" font-weight="bold">(R)</text><text x="428.90" y="142.22" fill="#3050f8" font-size="5.6" text-anchor="middle" font-weight="bold">NH</text><text x="424.00" y="143.71" fill="#3050f8" font-size="4.2" text-anchor="middle" font-weight="bold">+</text><text x="402.05" y="126.62" fill="#3050f8" font-size="5.6" text-anchor="middle" font-weight="bold">NH</text><text x="406.55" y="127.50" fill="#3050f8" font-size="3.6" text-anchor="middle" font-weight="bold">2</text><text x="373.70" y="152.51" fill="#e8202a" font-size="5.3" text-anchor="middle" font-weight="bold">O</text><text x="382.65" y="167.41" fill="#e8202a" font-size="5.3" text-anchor="middle" font-weight="bold">O</text><text x="385.95" y="165.04" fill="#e8202a" font-size="4.0" text-anchor="middle" font-weight="bold">-</text></g>
<path d="M429.65 214.50L436.45 210.57M436.45 210.57L445.50 215.80M445.50 215.80L445.50 226.26M445.50 226.26L436.45 231.49M436.45 231.49L427.40 226.26M427.40 226.26L427.40 218.20M436.45 200.11L445.50 194.88M445.50 194.88L445.50 184.42M445.50 184.42L436.45 179.19M436.45 179.19L427.40 184.42M427.40 184.42L427.40 194.88M427.40 194.88L436.45 200.11M429.41 185.11L436.04 181.28M443.90 185.82L443.90 193.48M436.04 198.02L429.41 194.19M456.63 211.77L463.60 215.80M463.60 215.80L472.65 210.57M472.65 210.57L472.65 200.11M472.65 200.11L481.70 194.88M481.70 194.88L490.75 200.11M490.75 200.11L490.75 210.57M490.75 210.57L481.70 215.80M481.70 215.80L472.65 210.57M474.66 200.80L481.29 196.97M489.15 201.51L489.15 209.17M481.29 213.71L474.66 209.88M481.70 194.88L481.70 187.02M490.75 210.57L497.38 214.40M463.60 226.26L470.40 230.19M425.15 214.50L418.35 210.57M418.35 210.57L409.30 215.80M409.30 215.80L400.25 210.57M400.25 210.57L391.20 215.80M391.20 215.80L391.20 226.26M391.20 226.26L400.25 231.49M400.25 231.49L409.30 226.26M409.30 226.26L409.30 215.80M400.66 212.66L407.29 216.49M407.29 225.57L400.66 229.40M392.80 224.86L392.80 217.20M400.25 210.57L400.25 200.11M391.20 226.26L382.15 231.49M382.15 231.49L375.00 227.36M380.93 232.40L374.48 228.67M382.15 231.49L382.15 239.55" stroke="#262626" stroke-width="0.85" fill="none" stroke-linecap="round"/>
<path d="M436.45 210.57L437.95 200.11L434.95 200.11ZM436.45 210.57L432.02 206.25L430.88 207.89ZM445.50 215.80L453.51 212.87L451.99 210.27ZM445.50 215.80L450.72 219.78L451.68 218.02Z" fill="#111" stroke="none"/>
<path d="M463.33 217.46L463.87 217.46M463.06 219.12L464.14 219.12M462.79 220.78L464.41 220.78M462.52 222.44L464.68 222.44M462.25 224.10L464.95 224.10M461.98 225.76L465.22 225.76" stroke="#333" stroke-width="0.75" fill="none"/>
<g font-family='"Liberation Sans", sans-serif'><text x="429.85" y="207.91" fill="#222" font-size="5.4" text-anchor="middle" font-weight="bold">H</text><text x="454.55" y="212.51" fill="#e8202a" font-size="5.4" text-anchor="middle" font-weight="bold">O</text><text x="452.80" y="221.84" fill="#222" font-size="5.4" text-anchor="middle" font-weight="bold">H</text><text x="482.20" y="186.26" fill="#20a020" font-size="5.1" text-anchor="middle" font-weight="bold">Cl</text><text x="500.40" y="217.64" fill="#20a020" font-size="5.1" text-anchor="middle" font-weight="bold">Cl</text><text x="474.65" y="233.33" fill="#e8202a" font-size="5.1" text-anchor="middle" font-weight="bold">OH</text><text x="438.45" y="208.57" fill="#3050f8" font-size="3.4" font-weight="bold">(R)</text><text x="438.50" y="220.00" fill="#3050f8" font-size="3.4" font-weight="bold">(R)</text><text x="461.40" y="212.20" fill="#208020" font-size="3.8" font-weight="bold">(R)</text><text x="428.90" y="217.82" fill="#3050f8" font-size="5.6" text-anchor="middle" font-weight="bold">NH</text><text x="424.00" y="219.31" fill="#3050f8" font-size="4.2" text-anchor="middle" font-weight="bold">+</text><text x="373.10" y="228.17" fill="#e8202a" font-size="5.3" text-anchor="middle" font-weight="bold">O</text><text x="382.15" y="243.16" fill="#e8202a" font-size="5.3" text-anchor="middle" font-weight="bold">O</text><text x="385.45" y="240.79" fill="#e8202a" font-size="4.0" text-anchor="middle" font-weight="bold">-</text></g>
<path d="M429.66 289.51L436.30 285.72M436.30 285.72L445.20 290.80M445.20 290.80L445.20 300.96M445.20 300.96L436.30 306.04M436.30 306.04L427.40 300.96M427.40 300.96L427.40 293.20M436.30 275.56L445.20 270.48M445.20 270.48L445.20 260.32M445.20 260.32L436.30 255.24M436.30 255.24L427.40 260.32M427.40 260.32L427.40 270.48M427.40 270.48L436.30 275.56M429.42 261.01L435.89 257.32M443.60 261.72L443.60 269.08M435.89 273.48L429.42 269.79M456.18 286.91L463.00 290.80M463.00 290.80L471.90 285.72M471.90 285.72L471.90 275.56M471.90 275.56L480.80 270.48M480.80 270.48L489.70 275.56M489.70 275.56L489.70 285.72M489.70 285.72L480.80 290.80M480.80 290.80L471.90 285.72M473.50 284.32L473.50 276.96M481.21 272.56L487.68 276.25M487.68 285.03L481.21 288.72M480.80 270.48L480.80 262.92M489.70 285.72L496.17 289.41M463.00 300.96L469.64 304.75M425.49 289.71L418.50 285.72M418.50 285.72L411.30 291.10M411.30 291.10L403.44 288.06M410.87 289.43L404.13 286.83M399.63 289.01L394.60 294.80M411.30 291.10L409.87 298.25M406.87 301.22L399.60 303.00M394.60 294.80L399.60 303.00M399.60 303.00L394.60 310.90M394.60 310.90L384.50 310.90M384.50 310.90L380.10 303.00M380.10 303.00L384.50 294.80M384.50 294.80L394.60 294.80M393.92 296.75L397.46 302.56M393.22 309.30L385.92 309.30M382.17 302.53L385.24 296.80M380.10 303.00L369.40 303.00M369.40 303.00L364.96 295.87M370.27 301.75L366.26 295.30M369.40 303.00L365.11 309.59" stroke="#262626" stroke-width="0.85" fill="none" stroke-linecap="round"/>
<path d="M436.30 285.72L437.80 275.56L434.80 275.56ZM436.30 285.72L431.87 281.40L430.73 283.04ZM445.20 290.80L453.05 288.02L451.55 285.42ZM445.20 290.80L450.42 294.78L451.38 293.02Z" fill="#111" stroke="none"/>
<path d="M462.73 292.41L463.27 292.41M462.46 294.03L463.54 294.03M462.19 295.64L463.81 295.64M461.92 297.25L464.08 297.25M461.65 298.86L464.35 298.86M461.38 300.48L464.62 300.48" stroke="#333" stroke-width="0.75" fill="none"/>
<g font-family='"Liberation Sans", sans-serif'><text x="429.70" y="283.06" fill="#222" font-size="5.4" text-anchor="middle" font-weight="bold">H</text><text x="454.10" y="287.66" fill="#e8202a" font-size="5.4" text-anchor="middle" font-weight="bold">O</text><text x="452.50" y="296.84" fill="#222" font-size="5.4" text-anchor="middle" font-weight="bold">H</text><text x="481.30" y="262.16" fill="#20a020" font-size="5.1" text-anchor="middle" font-weight="bold">Cl</text><text x="499.20" y="292.64" fill="#20a020" font-size="5.1" text-anchor="middle" font-weight="bold">Cl</text><text x="473.90" y="307.88" fill="#e8202a" font-size="5.1" text-anchor="middle" font-weight="bold">OH</text><text x="438.30" y="283.72" fill="#3050f8" font-size="3.4" font-weight="bold">(S)</text><text x="438.20" y="295.00" fill="#3050f8" font-size="3.4" font-weight="bold">(S)</text><text x="460.80" y="287.20" fill="#208020" font-size="3.8" font-weight="bold">(R)</text><text x="427.40" y="292.89" fill="#3050f8" font-size="5.8" text-anchor="middle" font-weight="bold">N</text><text x="401.20" y="289.29" fill="#3050f8" font-size="5.8" text-anchor="middle" font-weight="bold">N</text><text x="411.00" y="302.62" fill="#3050f8" font-size="5.6" text-anchor="middle" font-weight="bold">NH</text><text x="363.80" y="295.91" fill="#e8202a" font-size="5.3" text-anchor="middle" font-weight="bold">O</text><text x="363.80" y="313.51" fill="#e8202a" font-size="5.3" text-anchor="middle" font-weight="bold">O</text><text x="367.20" y="311.04" fill="#e8202a" font-size="4.0" text-anchor="middle" font-weight="bold">-</text></g>
<path d="M429.56 368.21L436.20 364.40M436.20 364.40L445.10 369.50M445.10 369.50L445.10 379.70M445.10 379.70L436.20 384.80M436.20 384.80L427.30 379.70M427.30 379.70L427.30 371.90M436.20 354.20L445.10 349.10M445.10 349.10L445.10 338.90M445.10 338.90L436.20 333.80M436.20 333.80L427.30 338.90M427.30 338.90L427.30 349.10M427.30 349.10L436.20 354.20M429.32 339.59L435.79 335.88M443.50 340.30L443.50 347.70M435.79 352.12L429.32 348.41M456.08 365.59L462.90 369.50M462.90 369.50L471.80 364.40M471.80 364.40L471.80 354.20M471.80 354.20L480.70 349.10M480.70 349.10L489.60 354.20M489.60 354.20L489.60 364.40M489.60 364.40L480.70 369.50M480.70 369.50L471.80 364.40M473.40 363.00L473.40 355.60M481.11 351.18L487.58 354.89M487.58 363.71L481.11 367.42M480.70 349.10L480.70 341.50M489.60 364.40L496.07 368.11M462.90 379.70L469.54 383.51M425.39 368.41L418.40 364.40M418.40 364.40L409.70 369.60M409.70 369.60L402.67 366.24M409.40 367.91L403.45 365.06M398.98 367.06L393.90 373.30M409.70 369.60L408.56 377.03M405.67 380.01L398.30 381.80M393.90 373.30L398.30 381.80M398.30 381.80L393.90 390.00M393.90 390.00L383.20 390.00M383.20 390.00L378.20 381.80M378.20 381.80L383.20 373.30M383.20 373.30L393.90 373.30M393.14 375.31L396.25 381.32M392.48 388.40L384.58 388.40M380.32 381.35L383.90 375.26" stroke="#262626" stroke-width="0.85" fill="none" stroke-linecap="round"/>
<path d="M436.20 364.40L437.70 354.20L434.70 354.20ZM436.20 364.40L431.77 360.08L430.63 361.72ZM445.10 369.50L452.95 366.70L451.45 364.10ZM445.10 369.50L450.32 373.48L451.28 371.72Z" fill="#111" stroke="none"/>
<path d="M462.63 371.12L463.17 371.12M462.36 372.74L463.44 372.74M462.09 374.36L463.71 374.36M461.82 375.98L463.98 375.98M461.55 377.60L464.25 377.60M461.28 379.21L464.52 379.21" stroke="#333" stroke-width="0.75" fill="none"/>
<g font-family='"Liberation Sans", sans-serif'><text x="429.60" y="361.74" fill="#222" font-size="5.4" text-anchor="middle" font-weight="bold">H</text><text x="454.00" y="366.34" fill="#e8202a" font-size="5.4" text-anchor="middle" font-weight="bold">O</text><text x="452.40" y="375.54" fill="#222" font-size="5.4" text-anchor="middle" font-weight="bold">H</text><text x="481.20" y="340.74" fill="#20a020" font-size="5.1" text-anchor="middle" font-weight="bold">Cl</text><text x="499.10" y="371.34" fill="#20a020" font-size="5.1" text-anchor="middle" font-weight="bold">Cl</text><text x="473.80" y="386.64" fill="#e8202a" font-size="5.1" text-anchor="middle" font-weight="bold">OH</text><text x="438.20" y="362.40" fill="#3050f8" font-size="3.4" font-weight="bold">(R)</text><text x="438.10" y="373.70" fill="#3050f8" font-size="3.4" font-weight="bold">(S)</text><text x="454.30" y="373.70" fill="#208020" font-size="3.4" font-weight="bold">(R)</text><text x="427.30" y="371.59" fill="#3050f8" font-size="5.8" text-anchor="middle" font-weight="bold">N</text><text x="400.50" y="367.29" fill="#3050f8" font-size="5.8" text-anchor="middle" font-weight="bold">N</text><text x="409.80" y="381.42" fill="#3050f8" font-size="5.6" text-anchor="middle" font-weight="bold">NH</text></g>
</svg>
</body></html>
